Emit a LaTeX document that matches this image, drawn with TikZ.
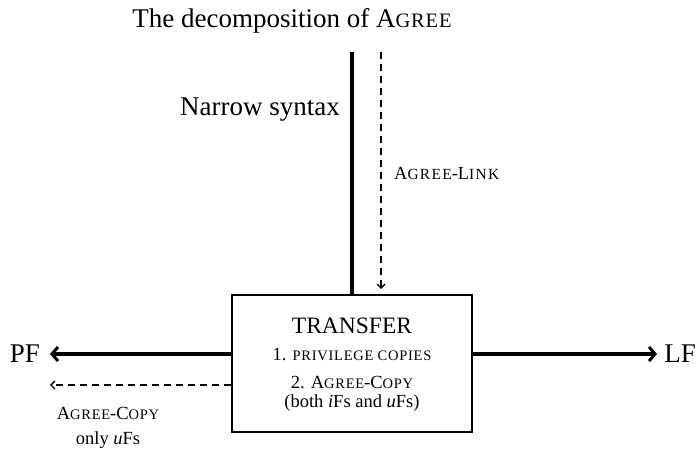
\documentclass[tikz,border=0pt]{standalone}
\usepackage{fontspec}
\setmainfont{Liberation Serif}
\usetikzlibrary{arrows.meta}
\newcommand\scL[1]{{\fontsize{20.5}{24}\selectfont\addfontfeature{LetterSpace=4}#1}}
\newcommand\scS[1]{{\fontsize{14.5}{17}\selectfont\addfontfeature{LetterSpace=5}#1}}
\newcommand\scM[1]{{\fontsize{15.5}{18}\selectfont\addfontfeature{LetterSpace=8}#1}}
\tikzset{
  big/.style={font=\fontsize{27}{30}\selectfont, inner sep=0pt},
  mid/.style={font=\fontsize{23.5}{27}\selectfont, inner sep=0pt},
  small/.style={font=\fontsize{18.5}{21}\selectfont, inner sep=0pt, align=center},
  thickline/.style={line width=4pt},
  thickarrow/.style={line width=4pt, -{Straight Barb[length=6pt,width=14pt,line width=3pt]}},
  dasharrow/.style={line width=1.8pt, dash pattern=on 7pt off 5pt, -{Straight Barb[length=4pt,width=8pt,line width=1.4pt]}},
  boxstyle/.style={draw, line width=2.4pt, minimum width=240pt, minimum height=137pt, inner sep=0pt}
}
\begin{document}
\begin{tikzpicture}[x=1pt,y=1pt]
\useasboundingbox (0,0) rectangle (698,452);
\node[big] (title) at (292,431) {The decomposition of A\scL{GREE}};
\node[big, anchor=east] (ns) at (340,342) {Narrow syntax};
\node[boxstyle] (box) at (352,88.5) {};
\node[mid] (tr) at (352,126) {TRANSFER};
\node[small] (l1) at (352,97) {1. \scS{PRIVILEGE COPIES}};
\node[small] (l2) at (352,69) {2. A\scS{GREE}-C\scS{OPY}};
\node[small] (l3) at (352,49) {(both \textit{i}Fs and \textit{u}Fs)};
\coordinate (top1) at (352,400);
\coordinate (top2) at (381,400);
\coordinate (end2) at (381,163);
\draw[thickline] (top1) -- (box.north -| top1);
\draw[dasharrow] (top2) -- (end2);
\node[small, anchor=west] (link) at (394,279) {A\scM{GREE}-L\scM{INK}};
\node[big] (pf) at (25,98) {PF};
\node[big] (lf) at (680,98) {LF};
\coordinate (pfend) at (50,98);
\coordinate (lfend) at (657,98);
\draw[thickarrow] (box.west |- pfend) -- (pfend);
\draw[thickarrow] (box.east |- lfend) -- (lfend);
\coordinate (dstart) at (232,67);
\coordinate (dend) at (50,67);
\draw[dasharrow] (box.west |- dstart) -- (dend);
\node[small] (ac) at (108,39) {A\scS{GREE}-C\scS{OPY}};
\node[small] (only) at (108,12) {only \textit{u}Fs};
\end{tikzpicture}
\end{document}
